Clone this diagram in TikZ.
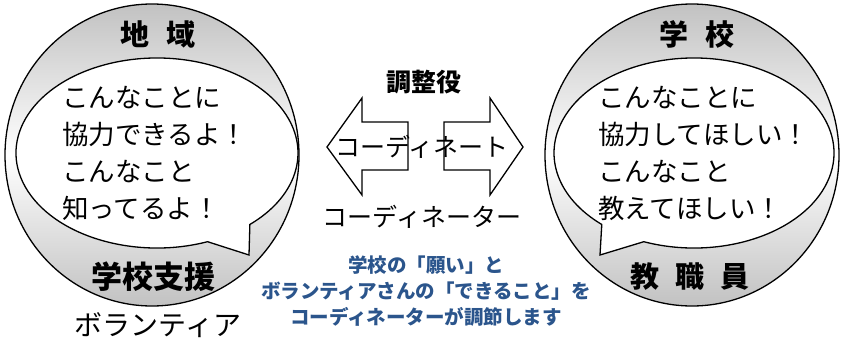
\documentclass[tikz,border=0pt]{standalone}
\usepackage{fontspec}
\newfontfamily\jp{Noto Sans CJK JP}
\definecolor{bluetext}{RGB}{43,85,140}
\tikzset{
  ring/.style={draw=black, line width=1.3pt, top color=black!24, bottom color=black!24, middle color=white},
  bubble/.style={draw=black, line width=1.3pt, fill=white, line join=miter},
  fatarrow/.style={draw=black, line width=1.3pt, fill=white, line join=miter},
  bubtext/.style={font=\jp\fontsize{26.5}{37}\selectfont, align=left, inner sep=0pt, anchor=west},
  title/.style={font=\jp\bfseries\fontsize{29}{30}\selectfont, inner sep=0pt},
  midtext/.style={font=\jp\fontsize{25}{28}\selectfont, inner sep=0pt},
  note/.style={font=\jp\bfseries\fontsize{19.5}{26}\selectfont, text=bluetext, align=center, inner sep=0pt}
}
\begin{document}
\begin{tikzpicture}[x=1pt,y=-1pt]
\useasboundingbox (0,0) rectangle (841,338);
% left circle
\path[ring] (152,155) ellipse [x radius=147, y radius=151];
\path[bubble] (157,153) ++(69:141 and 95)
  arc [start angle=69, end angle=408.8, x radius=141, y radius=95]
  -- (249,255) -- cycle;
% right circle
\path[ring] (692,155) ellipse [x radius=147, y radius=151];
\path[bubble] (694,153) ++(111:140 and 95)
  arc [start angle=111, end angle=-228.8, x radius=140, y radius=95]
  -- (600,255) -- cycle;
% titles
\node[title] (ltitle) at (158,34) {地\hspace{18pt}域};
\node[title, font=\jp\bfseries\fontsize{31}{32}\selectfont] (lbottom) at (153,277) {学校支援};
\node[font=\jp\fontsize{28}{30}\selectfont, inner sep=0pt] (lvol) at (158,325) {ボランティア};
\node[title] (rtitle) at (697,34) {学\hspace{18pt}校};
\node[title] (rbottom) at (690,277) {教\hspace{16pt}職\hspace{16pt}員};
% bubble texts
\node[bubtext] (ltext) at (62,153) {こんなことに\\協力できるよ！\\こんなこと\\知ってるよ！};
\node[bubtext] (rtext) at (598,153) {こんなことに\\協力してほしい！\\こんなこと\\教えてほしい！};
% arrows
\path[fatarrow] (408,122) -- (362,122) -- (362,98) -- (327,147) -- (362,195) -- (362,170) -- (408,170) -- cycle;
\path[fatarrow] (444,122) -- (490,122) -- (490,98) -- (523,147) -- (490,195) -- (490,170) -- (444,170) -- cycle;
\node[font=\jp\bfseries\fontsize{25}{28}\selectfont, inner sep=0pt] (role) at (424,82) {調整役};
\node[midtext] (coord) at (422,147) {コーディネート};
\node[midtext] (coordr) at (422,217) {コーディネーター};
% note
\node[note] (note) at (426,291) {学校の「願い」と\\ボランティアさんの「できること」を\\コーディネーターが調節します};
\end{tikzpicture}
\end{document}
